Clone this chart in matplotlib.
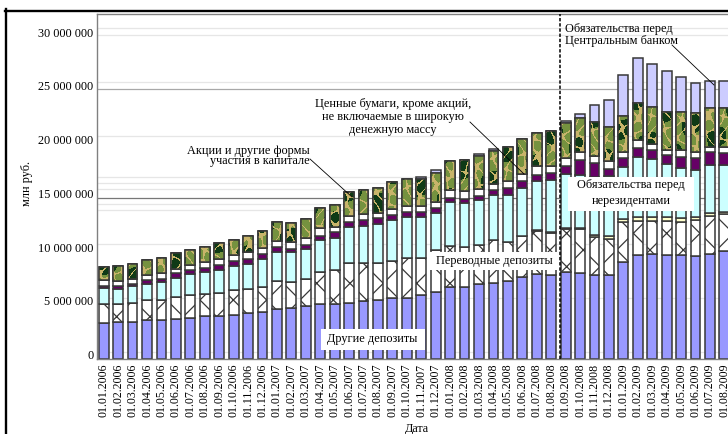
from matplotlib import pyplot as plt
from matplotlib.colors import ListedColormap
from matplotlib.lines import Line2D
from matplotlib.patches import Rectangle
from matplotlib.path import Path
from matplotlib.ticker import FuncFormatter
from matplotlib.transforms import ScaledTranslation
import numpy as np

W, H = 728, 434
plt.rcParams['font.family'] = ['Liberation Serif', 'DejaVu Serif']
plt.rcParams['hatch.linewidth'] = 0.9

dates = ['01.%02d.%d' % (m, y) for y in (2006, 2007, 2008, 2009) for m in range(1, 13)][:44]

# levels, millions of mln rub (top of each stacked segment)
other = [3.32, 3.38, 3.45, 3.57, 3.57, 3.69, 3.82, 3.94, 3.94, 4.10, 4.22, 4.38,
         4.59, 4.69, 4.90, 5.12, 5.06, 5.18, 5.37, 5.43, 5.62, 5.68, 5.96, 6.18,
         6.64, 6.64, 6.98, 7.08, 7.23, 7.57, 7.85, 7.79, 8.10, 7.98, 7.82, 7.82,
         9.03, 9.62, 9.72, 9.62, 9.62, 9.53, 9.78, 10.00]
transfer = [5.12, 5.06, 5.21, 5.43, 5.49, 5.71, 5.96, 5.99, 6.08, 6.36, 6.46, 6.64,
            7.23, 7.17, 7.39, 8.07, 8.23, 8.88, 8.94, 8.88, 9.09, 9.37, 9.34, 10.09,
            10.46, 10.37, 10.62, 11.08, 10.90, 11.42, 11.89, 11.70, 12.11, 12.07, 11.30, 11.17,
            12.70, 12.82, 12.79, 12.79, 12.76, 12.88, 13.28, 13.44]
thin_band = [0, 0, 0, 0, 0, 0, 0, 0, 0, 0, 0, 0,
             0, 0, 0, 0, 0, 0, 0, 0, 0, 0, 0, 0,
             0, 0, 0, 0, 0, 0, 0.10, 0.10, 0.06, 0.10, 0.19, 0.28,
             0.27, 0.34, 0.43, 0.37, 0.31, 0.28, 0.25, 0.19]
nonresident = [6.55, 6.52, 6.74, 6.98, 7.14, 7.54, 7.92, 8.07, 8.29, 8.60, 8.78, 9.28,
               9.96, 9.90, 10.18, 11.02, 11.27, 12.26, 12.39, 12.54, 12.88, 13.16, 13.16, 13.53,
               14.56, 14.46, 14.78, 15.27, 15.27, 15.92, 16.58, 16.61, 17.17, 17.10, 16.95, 17.01,
               17.88, 18.78, 18.62, 18.16, 17.79, 17.60, 18.07, 18.03]
purple = [6.80, 6.77, 6.98, 7.29, 7.45, 7.95, 8.26, 8.44, 8.72, 9.06, 9.25, 9.75,
          10.37, 10.21, 10.58, 11.45, 11.76, 12.76, 12.88, 13.07, 13.38, 13.69, 13.69, 14.00,
          14.93, 14.90, 15.18, 15.68, 15.86, 16.54, 17.13, 17.29, 17.97, 18.47, 18.25, 17.66,
          18.66, 19.65, 19.40, 18.97, 18.81, 18.72, 19.21, 19.12]
securities = [7.29, 7.26, 7.45, 7.79, 7.95, 8.38, 8.75, 9.03, 9.31, 9.65, 9.90, 10.31,
              10.96, 10.90, 11.21, 12.14, 12.29, 13.29, 13.44, 13.60, 13.91, 14.22, 14.22, 14.59,
              15.68, 15.58, 15.83, 16.30, 16.58, 17.23, 17.94, 17.97, 18.66, 19.21, 18.90, 18.38,
              19.28, 20.36, 19.99, 19.46, 19.40, 19.28, 19.74, 19.74]
shares = [8.54, 8.60, 8.82, 9.16, 9.37, 9.81, 10.12, 10.43, 10.74, 11.08, 11.42, 11.92,
          12.76, 12.60, 13.04, 14.06, 14.28, 15.55, 15.71, 15.86, 16.42, 16.76, 16.70, 17.26,
          18.41, 18.53, 18.87, 19.37, 19.74, 20.46, 21.05, 21.23, 21.91, 22.38, 22.07, 21.57,
          22.60, 23.84, 23.40, 23.00, 22.94, 22.85, 23.37, 23.34]
central_bank = [8.54, 8.60, 8.82, 9.16, 9.37, 9.81, 10.12, 10.43, 10.74, 11.08, 11.42, 11.92,
                12.76, 12.60, 13.04, 14.06, 14.28, 15.55, 15.71, 15.86, 16.42, 16.76, 16.95, 17.54,
                18.41, 18.53, 19.06, 19.56, 19.74, 20.46, 21.05, 21.23, 22.10, 22.78, 23.59, 24.09,
                26.42, 28.03, 27.41, 26.79, 26.26, 25.64, 25.86, 25.86]

# the uneven background lines of the original
light_lines = [30.79, 30.14, 25.76, 20.73, 16.92, 16.36, 15.80, 14.40, 13.84, 10.68, 5.65, 0.62]
strong_lines = [25.11, 14.96]

x = np.arange(len(dates))
other = np.array(other)
transfer = np.array(transfer)
band_top = transfer + np.array(thin_band)
nonresident = np.array(nonresident)
purple = np.array(purple)
securities = np.array(securities)
shares = np.array(shares)
central_bank = np.array(central_bank)

fig = plt.figure(figsize=(W / 100, H / 100), dpi=100)
ax = fig.add_axes([96.7 / W, 1 - 358.7 / H, (W - 96.7) / W, (358.7 - 14) / H])

x_lim = (-0.485, 43.25)
y_lim = (0, 32.1)

for v in light_lines:
    ax.axhline(v, color='#e6e6e6', lw=0.9, zorder=1)
ax.axhline(strong_lines[0], color='#a8a8a8', lw=0.9, zorder=1)
ax.axhline(strong_lines[1], color='#777777', lw=0.9, zorder=1)

width = 0.68
edge = dict(edgecolor='#383838', linewidth=1.1, zorder=2, width=width)
ax.bar(x, other, color='#9999ff', **edge)
ax.bar(x, transfer - other, bottom=other, color='white', hatch='x', **edge)
ax.bar(x, band_top - transfer, bottom=transfer, color='#ffffcc', **edge)
ax.bar(x, nonresident - band_top, bottom=band_top, color='#ccffff', **edge)
ax.bar(x, purple - nonresident, bottom=nonresident, color='#660066', **edge)
ax.bar(x, securities - purple, bottom=purple, color='white', **edge)
camo = ax.bar(x, shares - securities, bottom=securities, color='#c8b46a', **edge)
ax.bar(x, central_bank - shares, bottom=shares, color='#ccccff', **edge)

# camouflage fill of the shares segment
xx, yy = np.meshgrid(np.arange(W - 96), np.arange(345))
n1 = np.sin(xx * .44 + 1.3 * np.sin(yy * .22)) + np.sin(yy * .33 + 1.7 * np.sin(xx * .17))
n2 = np.sin(xx * .19 + yy * .12 + 1.1) + np.sin(yy * .16 - xx * .08)
tex = np.where(np.abs(n1) < 0.4, 0, np.where(n2 > 0.45, 2, 1))
im = ax.imshow(tex, extent=(*x_lim, *y_lim), aspect='auto', interpolation='nearest',
               cmap=ListedColormap(['#c8b46a', '#75923f', '#0f3a16']), zorder=2.2)
clip = Path.make_compound_path(*[b.get_path().transformed(b.get_patch_transform()) for b in camo])
im.set_clip_path(clip, ax.transData)
ax.bar(x, shares - securities, bottom=securities, facecolor='none', edgecolor='#383838',
       linewidth=1.1, zorder=2.4, width=width)

ax.axvline(31.6, color='black', lw=1.1, ls=(0, (2.2, 1.2)), zorder=3)

ax.set_xlim(*x_lim)
ax.set_ylim(*y_lim)
ax.set_xticks(x)
ax.set_xticklabels(dates, rotation=90, fontsize=8.6)
ax.set_yticks(np.arange(0, 31, 5))
ax.yaxis.set_major_formatter(FuncFormatter(lambda v, p: '0' if v == 0 else '%d 000 000' % v))
ax.tick_params(axis='both', length=0)
ax.tick_params(axis='x', pad=3.5)
ax.tick_params(axis='y', pad=2.5, labelsize=8.8)
for lab in ax.get_yticklabels():
    lab.set_verticalalignment('center')
    lab.set_transform(lab.get_transform() + ScaledTranslation(0, 2.0 / 72, fig.dpi_scale_trans))
for side in ['left', 'top', 'bottom']:
    ax.spines[side].set_color('#808080')
    ax.spines[side].set_linewidth(1.0)
ax.spines['right'].set_visible(False)


def note(px, py, s, ha='center', ls=1.0, size=8.8):
    fig.text(px / W, 1 - py / H, s, ha=ha, va='center', fontsize=size, linespacing=ls,
             multialignment=ha, zorder=6)


def box(x0, y0, x1, y1):
    fig.add_artist(Rectangle((x0 / W, 1 - y1 / H), (x1 - x0) / W, (y1 - y0) / H, facecolor='white',
                             edgecolor='none', transform=fig.transFigure, zorder=5))


def leader(x0, y0, x1, y1):
    fig.add_artist(Line2D([x0 / W, x1 / W], [1 - y0 / H, 1 - y1 / H], color='black', lw=0.6, zorder=4))


box(321, 329, 425, 350)
note(372, 339, 'Другие депозиты')
box(430, 252, 559, 270)
note(494, 261, 'Переводные депозиты')
box(568, 177, 694, 211)
note(631, 193, 'Обязательства перед\nнерезидентами', ls=1.35)
note(393, 117, 'Ценные бумаги, кроме акций,\nне включаемые в широкую\nденежную массу', ls=1.12)
note(310, 156, 'Акции и другие формы\nучастия в капитале', ha='right', ls=0.85)
note(565, 35, 'Обязательства перед\nЦентральным банком', ha='left', ls=0.95)
leader(310, 159, 352, 197)
leader(470, 122, 524, 174)
leader(672, 45, 714, 85)

fig.text(27 / W, 1 - 184 / H, 'млн руб.', rotation=90, ha='center', va='center', fontsize=8.8)
fig.text(417 / W, 1 - 429 / H, 'Дата', ha='center', va='center', fontsize=8.8)

# thick frame of the original screenshot
fig.add_artist(Line2D([6 / W, 6 / W], [0, 1 - 9.3 / H], color='black', lw=1.7))
fig.add_artist(Line2D([5 / W, 1], [1 - 10.5 / H, 1 - 10.5 / H], color='black', lw=1.7))

fig.savefig('out.png', dpi=100)
